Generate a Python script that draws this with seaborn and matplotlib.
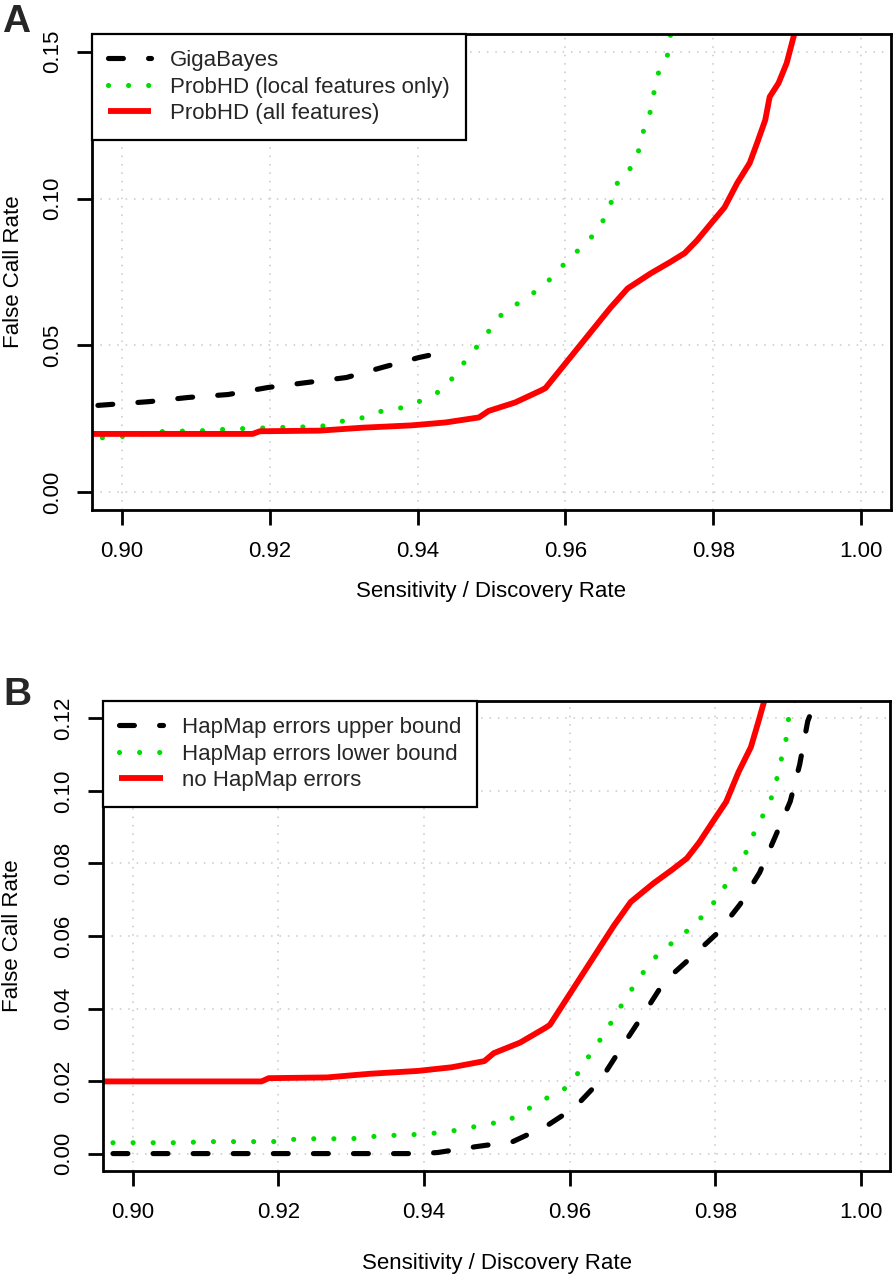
import matplotlib
matplotlib.use("Agg")
import matplotlib.pyplot as plt
import seaborn as sns
import pandas as pd

# ---------------- Panel A data ----------------
gb_x = [0.8968, 0.9038, 0.9090, 0.9144, 0.9198, 0.9251, 0.9304, 0.9352, 0.9402, 0.9415]
gb_y = [0.0296, 0.0309, 0.0323, 0.0333, 0.0357, 0.0374, 0.0391, 0.0425, 0.0459, 0.0466]

local_x = [0.8974, 0.9001, 0.9055, 0.9109, 0.9136, 0.9163, 0.9216, 0.9269, 0.9294, 0.9320,
           0.9341, 0.9368, 0.9392, 0.9413, 0.9435, 0.9450, 0.9466, 0.9484, 0.9500, 0.9516,
           0.9550, 0.9577, 0.9603, 0.9624, 0.9644, 0.9656, 0.9665, 0.9672, 0.9691, 0.9700,
           0.9706, 0.9715, 0.9720, 0.9726, 0.9738, 0.9742, 0.9745]
local_y = [0.0186, 0.0190, 0.0207, 0.0210, 0.0214, 0.0217, 0.0221, 0.0224, 0.0241, 0.0248,
           0.0272, 0.0282, 0.0296, 0.0323, 0.0350, 0.0398, 0.0452, 0.0507, 0.0561, 0.0613,
           0.0665, 0.0720, 0.0790, 0.0840, 0.0892, 0.0950, 0.1008, 0.1069, 0.1110, 0.1171,
           0.1236, 0.1298, 0.1366, 0.1431, 0.1489, 0.1557, 0.1600]

# ProbHD all features == no HapMap errors (same curve in both panels)
all_x = [0.8955, 0.9177, 0.9187, 0.9267, 0.9325, 0.9375, 0.9392, 0.9438, 0.9483, 0.9496,
         0.9532, 0.9567, 0.9573, 0.9661, 0.9684, 0.9715, 0.9741, 0.9761, 0.9778, 0.9798,
         0.9815, 0.9832, 0.9849, 0.9859, 0.9870, 0.9876, 0.9888, 0.9899, 0.9909, 0.9912]
all_y = [0.0199, 0.0199, 0.0208, 0.0210, 0.0220, 0.0226, 0.0228, 0.0238, 0.0255, 0.0277,
         0.0306, 0.0347, 0.0355, 0.0629, 0.0694, 0.0745, 0.0783, 0.0814, 0.0858, 0.0919,
         0.0970, 0.1052, 0.1121, 0.1189, 0.1267, 0.1346, 0.1393, 0.1461, 0.1557, 0.1600]

# ---------------- Panel B data ----------------
up_x = [0.8973, 0.9395, 0.9419, 0.9471, 0.9522, 0.9569, 0.9607, 0.9642, 0.9672, 0.9702,
        0.9730, 0.9768, 0.9804, 0.9834, 0.9861, 0.9882, 0.9903, 0.9916, 0.9927, 0.9930]
up_y = [0.0000, 0.0000, 0.0003, 0.0019, 0.0033, 0.0077, 0.0127, 0.0201, 0.0295, 0.0386,
        0.0474, 0.0543, 0.0610, 0.0687, 0.0775, 0.0872, 0.0971, 0.1073, 0.1192, 0.1208]

lo_x = [0.8973, 0.9057, 0.9111, 0.9138, 0.9193, 0.9219, 0.9246, 0.9301, 0.9329, 0.9355,
        0.9382, 0.9408, 0.9434, 0.9459, 0.9487, 0.9513, 0.9532, 0.9555, 0.9574, 0.9596,
        0.9612, 0.9627, 0.9642, 0.9657, 0.9671, 0.9686, 0.9701, 0.9714, 0.9735, 0.9754,
        0.9775, 0.9787, 0.9806, 0.9817, 0.9831, 0.9845, 0.9854, 0.9867, 0.9878, 0.9885,
        0.9891, 0.9897, 0.9900, 0.9909, 0.9912]
lo_y = [0.0030, 0.0030, 0.0033, 0.0033, 0.0033, 0.0039, 0.0041, 0.0041, 0.0047, 0.0050,
        0.0052, 0.0055, 0.0061, 0.0069, 0.0083, 0.0086, 0.0113, 0.0135, 0.0160, 0.0182,
        0.0223, 0.0270, 0.0314, 0.0361, 0.0408, 0.0455, 0.0499, 0.0535, 0.0571, 0.0604,
        0.0632, 0.0673, 0.0706, 0.0753, 0.0797, 0.0839, 0.0888, 0.0938, 0.0985, 0.1037,
        0.1090, 0.1139, 0.1194, 0.1244, 0.1280]

labels_A = ["GigaBayes", "ProbHD (local features only)", "ProbHD (all features)"]
labels_B = ["HapMap errors upper bound", "HapMap errors lower bound", "no HapMap errors"]

x_ticks = [0.90, 0.92, 0.94, 0.96, 0.98, 1.00]
yticks_A = [0.00, 0.05, 0.10, 0.15]
yticks_B = [0.00, 0.02, 0.04, 0.06, 0.08, 0.10, 0.12]

sns.set_theme(style="white")
plt.rcParams["font.family"] = ["Liberation Sans", "DejaVu Sans"]

fig = plt.figure(figsize=(8.95, 12.8), dpi=100)
axA = fig.add_axes([92 / 895, 1 - 510 / 1280, 799 / 895, 476 / 1280])
axB = fig.add_axes([103.5 / 895, 1 - 1171 / 1280, 786.5 / 895, 470 / 1280])

BLACK = dict(color="black", linewidth=3.7, linestyle=(0, (2.9, 4.9)), dash_capstyle="round")
GREEN = dict(color="#00dd00", linewidth=3.7, linestyle=(0, (0.01, 3.9)), dash_capstyle="round")
RED = dict(color="#ff0000", linewidth=4.2, solid_capstyle="butt")


def draw(ax, series):
    for xs, ys, lab, style in series:
        df = pd.DataFrame({"x": xs, "y": ys})
        sns.lineplot(data=df, x="x", y="y", ax=ax, sort=False, estimator=None,
                     label=lab, **style)


draw(axA, [(gb_x, gb_y, labels_A[0], BLACK),
           (local_x, local_y, labels_A[1], GREEN),
           (all_x, all_y, labels_A[2], RED)])
draw(axB, [(up_x, up_y, labels_B[0], BLACK),
           (lo_x, lo_y, labels_B[1], GREEN),
           (all_x, all_y, labels_B[2], RED)])


def style_axes(ax, yticks, ylim, xlab_y, ylab_x):
    ax.set_xlim(0.896, 1.004)
    ax.set_ylim(*ylim)
    ax.set_xticks(x_ticks)
    ax.set_xticklabels([f"{v:.2f}" for v in x_ticks])
    ax.set_yticks(yticks)
    ax.set_yticklabels([f"{v:.2f}" for v in yticks])
    ax.grid(True, color="#c8c8c8", linewidth=1.1, linestyle=(0, (1, 4.5)))
    ax.set_axisbelow(True)
    for s in ax.spines.values():
        s.set_visible(True)
        s.set_color("black")
        s.set_linewidth(2.0)
    ax.tick_params(axis="both", which="major", direction="out", length=11, width=2.0,
                   color="black", labelcolor="black", labelsize=16,
                   bottom=True, left=True, top=False, right=False)
    ax.tick_params(axis="x", pad=11)
    ax.tick_params(axis="y", pad=10, labelrotation=90)
    for t in ax.get_yticklabels():
        t.set_va("center")
    ax.set_xlabel("Sensitivity / Discovery Rate", fontsize=16, color="black", va="center")
    ax.set_ylabel("False Call Rate", fontsize=16, color="black", va="center")
    ax.xaxis.set_label_coords(0.5, xlab_y)
    ax.yaxis.set_label_coords(ylab_x, 0.5)
    leg = ax.legend(loc="upper left", bbox_to_anchor=(0, 1), borderaxespad=0.0,
                    fontsize=16, frameon=True, fancybox=False, shadow=False,
                    handlelength=1.95, handletextpad=0.85, labelspacing=0.25,
                    borderpad=0.72)
    fr = leg.get_frame()
    fr.set_edgecolor("black")
    fr.set_linewidth(1.6)
    fr.set_facecolor("white")
    fr.set_alpha(1.0)


style_axes(axA, yticks_A, (-0.006, 0.156), (510 - 592) / 476, (14 - 92) / 799)
style_axes(axB, yticks_B, (-0.0048, 0.1248), (1172 - 1265) / 470, (13 - 103.5) / 786.5)

fig.text(2 / 895, 1 - 4 / 1280, "A", fontsize=28, fontweight="bold", ha="left", va="top")
fig.text(3 / 895, 1 - 677 / 1280, "B", fontsize=28, fontweight="bold", ha="left", va="top")

fig.savefig("out.png", dpi=100, facecolor="white")
